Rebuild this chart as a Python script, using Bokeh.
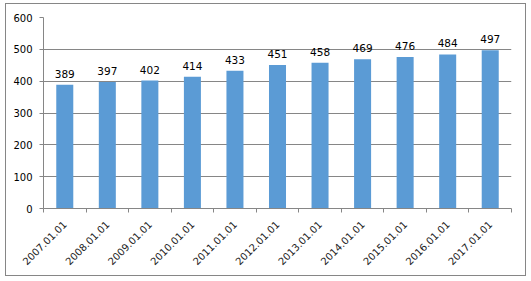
import math
from bokeh.plotting import figure
from bokeh.models import ColumnDataSource, FixedTicker, Range1d, LabelSet
from bokeh.core.properties import value
from bokeh.embed import file_html
from bokeh.resources import INLINE

categories = ["2007.01.01", "2008.01.01", "2009.01.01", "2010.01.01", "2011.01.01",
              "2012.01.01", "2013.01.01", "2014.01.01", "2015.01.01", "2016.01.01",
              "2017.01.01"]
values = [389, 397, 402, 414, 433, 451, 458, 469, 476, 484, 497]
y_ticks = [0, 100, 200, 300, 400, 500, 600]

xs = [i + 0.5 for i in range(len(categories))]
source = ColumnDataSource(dict(x=xs, value=values, label=[str(v) for v in values]))

GRAY = "#868686"
FONT = "DejaVu Sans"

p = figure(width=519, height=271, output_backend="svg", toolbar_location=None,
           x_range=Range1d(0, len(categories)), y_range=Range1d(0, 600),
           min_border_left=37, min_border_top=13, min_border_right=14, min_border_bottom=67)
p.styles = {"margin-left": "6px", "margin-top": "4px",
            "outline": "1px solid " + GRAY, "outline-offset": "0px"}
p.outline_line_color = None
p.background_fill_color = "white"
p.border_fill_color = "white"

p.vbar(x="x", top="value", width=0.4, source=source, fill_color="#5B9BD5", line_color=None)

labels = LabelSet(x="x", y="value", text="label", source=source, text_align="center",
                  text_baseline="bottom", y_offset=7, text_font_size="10.5px",
                  text_font=value(FONT), text_color="#000000")
p.add_layout(labels)

# x axis
p.xaxis.ticker = FixedTicker(ticks=xs, minor_ticks=list(range(len(categories) + 1)))
p.xaxis.major_label_overrides = {x: c for x, c in zip(xs, categories)}
p.xaxis.major_tick_line_color = None
p.xaxis.minor_tick_line_color = GRAY
p.xaxis.minor_tick_in = 0
p.xaxis.minor_tick_out = 4
p.xaxis.axis_line_color = GRAY
p.xaxis.major_label_orientation = math.pi / 4
p.xaxis.major_label_standoff = 8
p.xaxis.major_label_text_font = FONT
p.xaxis.major_label_text_font_size = "10px"
p.xaxis.major_label_text_color = "#1a1a1a"

# y axis
p.yaxis.ticker = FixedTicker(ticks=y_ticks)
p.yaxis.major_tick_line_color = GRAY
p.yaxis.major_tick_in = 0
p.yaxis.major_tick_out = 4
p.yaxis.minor_tick_line_color = None
p.yaxis.axis_line_color = GRAY
p.yaxis.major_label_standoff = 7
p.yaxis.major_label_text_font = FONT
p.yaxis.major_label_text_font_size = "10px"
p.yaxis.major_label_text_color = "#000000"

p.xgrid.grid_line_color = None
p.ygrid.grid_line_color = GRAY
p.ygrid.ticker = FixedTicker(ticks=y_ticks)

open("out.html", "w").write(file_html(p, INLINE))
